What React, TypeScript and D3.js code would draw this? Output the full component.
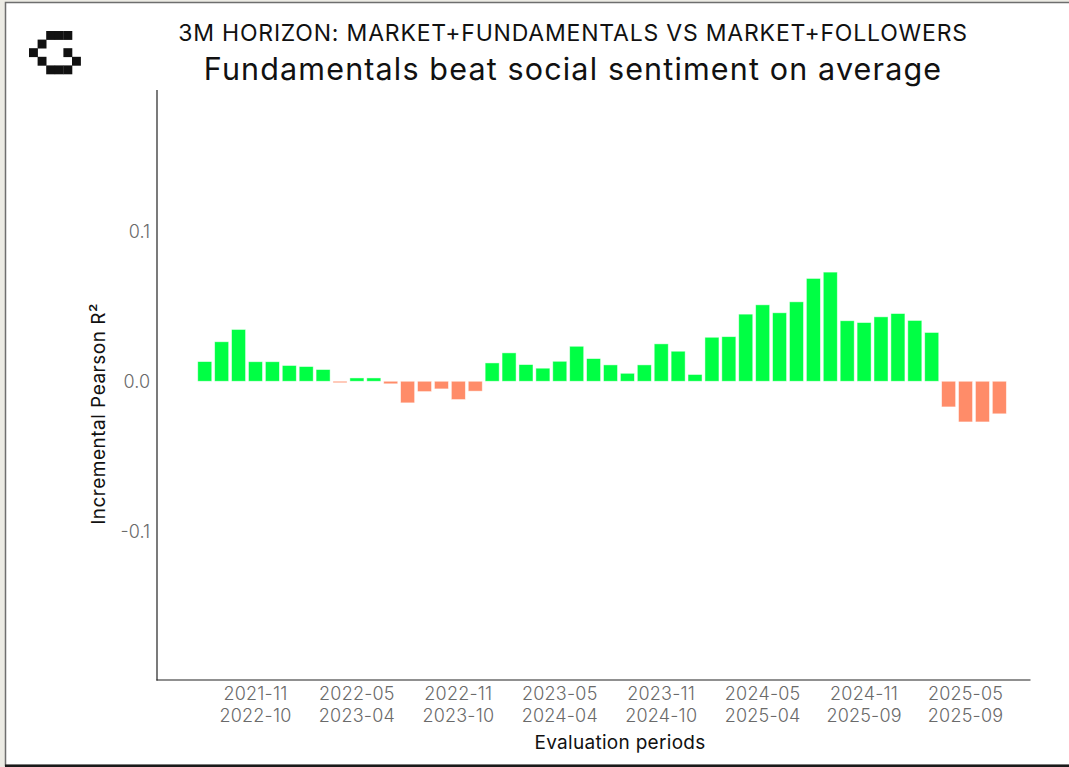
import React, { useEffect, useRef } from 'react';
import * as d3 from 'd3';

// period start months, one bar each
const periods = [
  '2021-08', '2021-09', '2021-10', '2021-11', '2021-12', '2022-01', '2022-02', '2022-03',
  '2022-04', '2022-05', '2022-06', '2022-07', '2022-08', '2022-09', '2022-10', '2022-11',
  '2022-12', '2023-01', '2023-02', '2023-03', '2023-04', '2023-05', '2023-06', '2023-07',
  '2023-08', '2023-09', '2023-10', '2023-11', '2023-12', '2024-01', '2024-02', '2024-03',
  '2024-04', '2024-05', '2024-06', '2024-07', '2024-08', '2024-09', '2024-10', '2024-11',
  '2024-12', '2025-01', '2025-02', '2025-03', '2025-04', '2025-05', '2025-06', '2025-07',
];

// incremental Pearson R² (fundamentals minus followers)
const deltas = [
  0.0131, 0.0263, 0.0345, 0.013, 0.013, 0.0105, 0.0098, 0.0078,
  -0.001, 0.0022, 0.0022, -0.0017, -0.0144, -0.0069, -0.0051, -0.0122,
  -0.0066, 0.0122, 0.0189, 0.0111, 0.0087, 0.0133, 0.0233, 0.0151,
  0.0109, 0.0053, 0.0109, 0.0249, 0.02, 0.0045, 0.0293, 0.0297,
  0.0447, 0.0509, 0.0456, 0.0529, 0.0685, 0.0727, 0.0403, 0.0391,
  0.0429, 0.0451, 0.0405, 0.0325, -0.0171, -0.0271, -0.0271, -0.0217,
];

// x tick labels: window start / window end
const tickStarts = ['2021-11', '2022-05', '2022-11', '2023-05', '2023-11', '2024-05', '2024-11', '2025-05'];
const tickEnds = ['2022-10', '2023-04', '2023-10', '2024-04', '2024-10', '2025-04', '2025-09', '2025-09'];

const yTicks = [0.1, 0.0, -0.1];
const yTickLabels = ['0.1', '0.0', '-0.1'];

// pixel logo blocks [col, row]
const logoBlocks = [
  [2, 0], [3, 0], [4, 0],
  [1, 1],
  [0, 2], [4, 2],
  [1, 3], [5, 3],
  [2, 4], [3, 4], [4, 4],
];

const W = 1069;
const H = 767;
const FONT = 'Inter, "Noto Sans", sans-serif';

const App = () => {
  const ref = useRef<SVGSVGElement>(null);

  useEffect(() => {
    const svg = d3.select(ref.current);
    svg.selectAll('*').remove();

    // page background + figure frame
    svg.append('rect').attr('width', W).attr('height', H).attr('fill', '#ecebe4');
    svg.append('rect')
      .attr('x', 5.5).attr('y', 2.5)
      .attr('width', W).attr('height', 763)
      .attr('fill', '#fff')
      .attr('stroke', '#6e6e6e')
      .attr('stroke-width', 1.5);
    svg.append('rect').attr('x', 5).attr('y', 764.5).attr('width', W).attr('height', 2.5).attr('fill', '#1a1a1a');

    // logo
    const bs = 8.6;
    svg.append('g')
      .selectAll('rect')
      .data(logoBlocks)
      .enter()
      .append('rect')
      .attr('x', d => 29 + d[0] * bs)
      .attr('y', d => 31 + d[1] * bs)
      .attr('width', bs + 0.3)
      .attr('height', bs + 0.3)
      .attr('fill', '#111');

    // titles
    svg.append('text')
      .attr('x', 573).attr('y', 40.5)
      .attr('text-anchor', 'middle')
      .style('font-family', FONT)
      .style('font-size', '23px')
      .style('letter-spacing', '0.8px')
      .attr('fill', '#111')
      .text('3M HORIZON: MARKET+FUNDAMENTALS VS MARKET+FOLLOWERS');

    svg.append('text')
      .attr('x', 573).attr('y', 80)
      .attr('text-anchor', 'middle')
      .style('font-family', FONT)
      .style('font-size', '30.5px')
      .style('letter-spacing', '1.15px')
      .attr('fill', '#111')
      .text('Fundamentals beat social sentiment on average');

    // scales
    const x = d3.scaleBand<string>()
      .domain(periods)
      .range([196.3, 1007.8])
      .paddingInner(0.17)
      .paddingOuter(0.085);

    const y = d3.scaleLinear()
      .domain([-0.199, 0.194])
      .range([680, 90]);

    // bars
    svg.append('g')
      .selectAll('rect')
      .data(deltas)
      .enter()
      .append('rect')
      .attr('x', (d, i) => x(periods[i]) as number)
      .attr('y', d => y(Math.max(0, d)))
      .attr('width', x.bandwidth())
      .attr('height', d => Math.abs(y(d) - y(0)))
      .attr('fill', d => (d >= 0 ? '#00ff44' : '#ff8c69'))
      .attr('stroke', '#fff')
      .attr('stroke-opacity', 0.6)
      .attr('stroke-width', 0.8);

    // spines
    svg.append('line')
      .attr('x1', 157).attr('x2', 157)
      .attr('y1', 90).attr('y2', 680.5)
      .attr('stroke', '#222').attr('stroke-width', 1.2);
    svg.append('line')
      .attr('x1', 156.4).attr('x2', 1030.5)
      .attr('y1', 680).attr('y2', 680)
      .attr('stroke', '#222').attr('stroke-width', 1.2);

    // y ticks
    svg.append('g')
      .selectAll('text')
      .data(yTicks)
      .enter()
      .append('text')
      .attr('x', 150)
      .attr('y', d => y(d) + 6.5)
      .attr('text-anchor', 'end')
      .style('font-family', FONT)
      .style('font-size', '18px')
      .style('font-weight', 300)
      .attr('fill', '#6a6a6a')
      .text((d, i) => yTickLabels[i]);

    // x ticks (two lines each)
    const xt = svg.append('g')
      .selectAll('text')
      .data(tickStarts)
      .enter()
      .append('text')
      .attr('transform', d => `translate(${(x(d) as number) + x.bandwidth() / 2},0)`)
      .attr('text-anchor', 'middle')
      .style('font-family', FONT)
      .style('font-size', '18px')
      .style('font-weight', 300)
      .style('letter-spacing', '0.2px')
      .attr('fill', '#6a6a6a');
    xt.append('tspan').attr('x', 0).attr('y', 699.5).text(d => d);
    xt.append('tspan').attr('x', 0).attr('y', 721.5).text((d, i) => tickEnds[i]);

    // axis labels
    svg.append('text')
      .attr('x', 620).attr('y', 749)
      .attr('text-anchor', 'middle')
      .style('font-family', FONT)
      .style('font-size', '19px')
      .style('letter-spacing', '0.3px')
      .attr('fill', '#111')
      .text('Evaluation periods');

    svg.append('text')
      .attr('transform', 'translate(105,414) rotate(-90)')
      .attr('text-anchor', 'middle')
      .style('font-family', FONT)
      .style('font-size', '19px')
      .style('letter-spacing', '0.5px')
      .attr('fill', '#111')
      .text('Incremental Pearson R²');
  }, []);

  return (
    <svg
      ref={ref}
      width={W}
      height={H}
      style={{ position: 'absolute', left: 0, top: 0, display: 'block' }}
    />
  );
};

export default App;
